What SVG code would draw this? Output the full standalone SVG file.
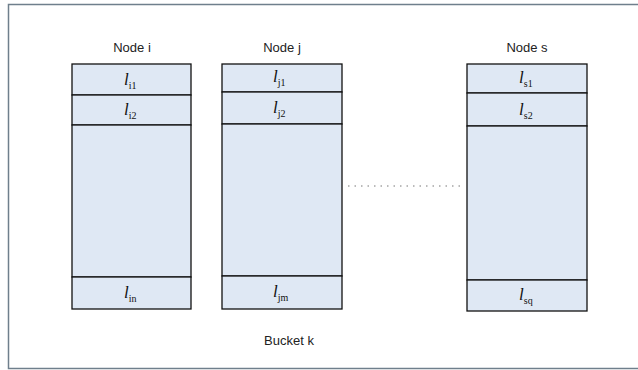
<svg xmlns="http://www.w3.org/2000/svg" width="638" height="370" viewBox="0 0 638 370">
<style>
.frame{fill:#ffffff;stroke:#6f7f8c;stroke-width:1.5}
.cell{fill:#dfe8f4;stroke:#111;stroke-width:1.3}
.title{font-family:"Liberation Sans",Arial,sans-serif;font-size:13px;fill:#222;text-anchor:middle}
.lab{font-family:"Liberation Serif","Times New Roman",serif;font-style:italic;font-size:17px;fill:#111}
.sub{font-size:10px;font-style:normal}
.dots{stroke:#777;stroke-width:1;stroke-dasharray:1.5,5;fill:none}
</style>
<rect class="frame" x="8.5" y="4.5" width="640" height="364"/>
<g id="node-i">
<text class="title" x="132" y="52">Node i</text>
<rect class="cell" x="72" y="64" width="119" height="31"/>
<rect class="cell" x="72" y="95" width="119" height="30"/>
<rect class="cell" x="72" y="125" width="119" height="152"/>
<rect class="cell" x="72" y="277" width="119" height="32"/>
<text class="lab" x="124" y="85">l<tspan class="sub" dy="4">i1</tspan></text>
<text class="lab" x="124" y="115">l<tspan class="sub" dy="4">i2</tspan></text>
<text class="lab" x="124" y="298">l<tspan class="sub" dy="4">in</tspan></text>
</g>
<g id="node-j">
<text class="title" x="282" y="52">Node j</text>
<rect class="cell" x="222" y="64" width="120" height="28"/>
<rect class="cell" x="222" y="92" width="120" height="32"/>
<rect class="cell" x="222" y="124" width="120" height="152"/>
<rect class="cell" x="222" y="276" width="120" height="33"/>
<text class="lab" x="273" y="82">l<tspan class="sub" dy="4">j1</tspan></text>
<text class="lab" x="273" y="113">l<tspan class="sub" dy="4">j2</tspan></text>
<text class="lab" x="273" y="297">l<tspan class="sub" dy="4">jm</tspan></text>
</g>
<g id="node-s">
<text class="title" x="527" y="52">Node s</text>
<rect class="cell" x="467" y="64" width="120" height="29"/>
<rect class="cell" x="467" y="93" width="120" height="33"/>
<rect class="cell" x="467" y="126" width="120" height="154"/>
<rect class="cell" x="467" y="280" width="120" height="31"/>
<text class="lab" x="519" y="83">l<tspan class="sub" dy="4">s1</tspan></text>
<text class="lab" x="519" y="115">l<tspan class="sub" dy="4">s2</tspan></text>
<text class="lab" x="519" y="300">l<tspan class="sub" dy="4">sq</tspan></text>
</g>
<g id="connectors">
<line class="dots" x1="348" y1="186" x2="463" y2="186"/>
</g>
<g id="bucket-label">
<text class="title" x="289" y="345">Bucket k</text>
</g>
</svg>
